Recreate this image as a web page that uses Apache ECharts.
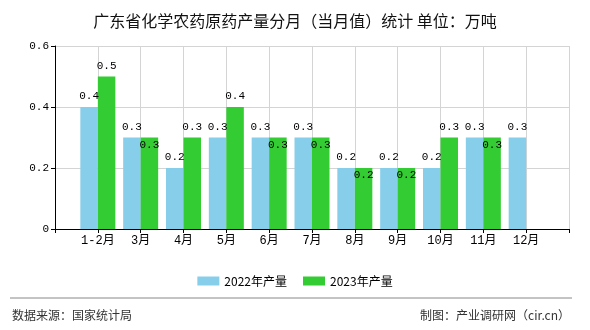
<!DOCTYPE html>
<html>
<head>
<meta charset="utf-8">
<script src="https://cdn.jsdelivr.net/npm/echarts@6/dist/echarts.min.js"></script>
<style>
html,body{margin:0;padding:0;background:#fff;}
#chart{width:590px;height:330px;}
</style>
</head>
<body>
<div id="chart"></div>
<script>
const titleText = '广东省化学农药原药产量分月（当月值）统计 单位：万吨';
const categories = ['1-2月','3月','4月','5月','6月','7月','8月','9月','10月','11月','12月'];
const prod2022 = [0.4,0.3,0.2,0.3,0.3,0.3,0.2,0.2,0.2,0.3,0.3];
const prod2023 = [0.5,0.3,0.3,0.4,0.3,0.3,0.2,0.2,0.3,0.3,null];
const seriesNames = ['2022年产量','2023年产量'];
const sourceText = '数据来源：国家统计局';
const makerText = '制图：产业调研网（cir.cn）';

const monoFont = "'Liberation Mono','Noto Sans CJK SC',monospace";
const cjkFont = "'Noto Sans CJK SC',sans-serif";

const xData = [''].concat(categories, ['']);
const pad = arr => [null].concat(arr, [null]);

const d2022 = pad(prod2022);
const d2023 = pad(prod2023).map((v, i) => {
  if (v == null) return null;
  const other = d2022[i];
  if (other != null && other === v) {
    return { value: v, label: { position: 'insideTop', distance: 2 } };
  }
  return v;
});

const labelCommon = {
  show: true,
  position: 'top',
  distance: 5,
  color: '#000',
  fontFamily: monoFont,
  fontSize: 11,
  formatter: p => (p.value == null ? '' : Number(p.value).toFixed(1))
};

const chart = echarts.init(document.getElementById('chart'), null, {renderer: 'canvas'});
chart.setOption({
  animation: false,
  backgroundColor: '#fff',
  title: {
    text: titleText,
    left: 'center',
    top: 8,
    textStyle: { fontFamily: cjkFont, fontSize: 16, fontWeight: 'normal', color: '#111' }
  },
  legend: {
    data: seriesNames,
    top: 270,
    left: 'center',
    icon: 'rect',
    itemWidth: 22,
    itemHeight: 9,
    itemGap: 16,
    textStyle: { fontFamily: cjkFont, fontSize: 12, color: '#000' }
  },
  grid: { left: 55, top: 46, right: 21, bottom: 101, containLabel: false },
  xAxis: {
    type: 'category',
    data: xData,
    boundaryGap: false,
    axisLine: { lineStyle: { color: '#000', width: 1 } },
    axisTick: { show: true, interval: 0, length: 4, lineStyle: { color: '#000' } },
    axisLabel: { interval: 0, color: '#000', fontFamily: monoFont, fontSize: 12, margin: 6 },
    splitLine: { show: true, interval: 0, lineStyle: { color: '#d4d4d4' } }
  },
  yAxis: {
    type: 'value',
    min: 0,
    max: 0.6,
    interval: 0.2,
    axisLine: { show: true, lineStyle: { color: '#000', width: 1 } },
    axisTick: { show: true, length: 4, lineStyle: { color: '#000' } },
    axisLabel: { color: '#000', fontFamily: monoFont, fontSize: 11, margin: 6 },
    splitLine: { show: true, lineStyle: { color: '#d4d4d4' } }
  },
  series: [
    {
      name: seriesNames[0],
      type: 'bar',
      data: d2022,
      barWidth: 17.5,
      barGap: '0%',
      itemStyle: { color: '#87CEEB' },
      label: labelCommon
    },
    {
      name: seriesNames[1],
      type: 'bar',
      data: d2023,
      barWidth: 17.5,
      barGap: '0%',
      itemStyle: { color: '#33CC33' },
      label: labelCommon
    }
  ],
  graphic: [
    { type: 'line', shape: { x1: 10, y1: 298, x2: 572, y2: 298 }, style: { stroke: '#888', lineWidth: 1 } },
    { type: 'text', left: 12, top: 309, style: { text: sourceText, fontFamily: cjkFont, fontSize: 12, fill: '#333' } },
    { type: 'text', right: 20, top: 309, style: { text: makerText, fontFamily: cjkFont, fontSize: 12, fill: '#333' } }
  ]
});
</script>
</body>
</html>
